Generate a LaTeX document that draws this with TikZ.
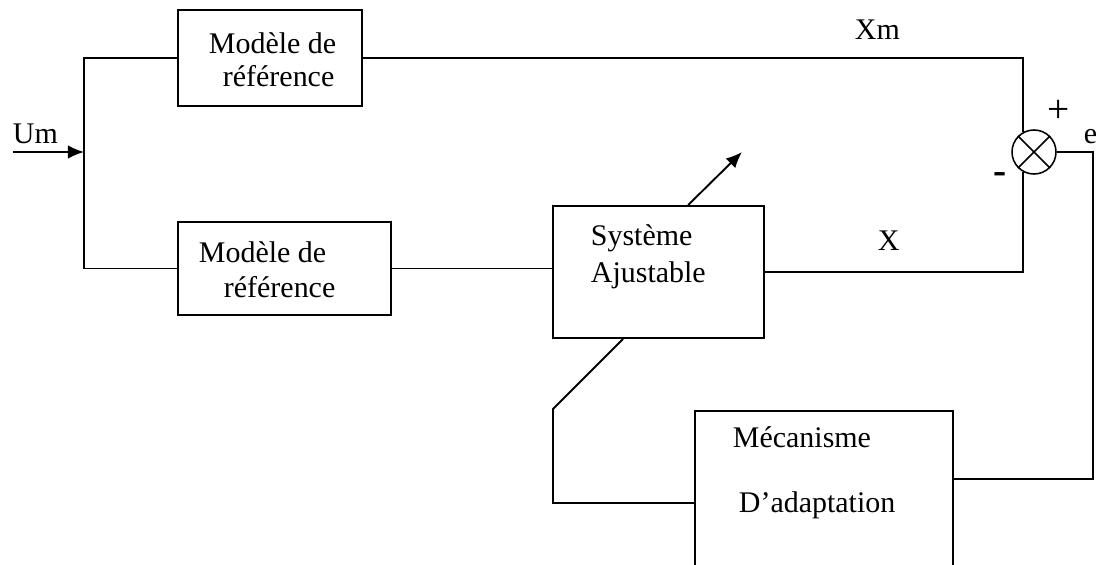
\documentclass[tikz,border=0pt]{standalone}
\usepackage{fontspec}
\setmainfont{Liberation Serif}
\usetikzlibrary{arrows.meta,positioning}

\begin{document}
\begin{tikzpicture}[x=0.025cm,y=-0.025cm,line width=1.35pt,
    bloc/.style={draw,rectangle,inner sep=0pt},
    texte/.style={anchor=base west,inner sep=0pt,font=\fontsize{21.3}{23.5}\selectfont},
    signe/.style={inner sep=0pt,font=\fontsize{28}{30}\selectfont},
    fleche/.style={-{Latex[length=4mm,width=3.4mm]}}]
    \useasboundingbox (0,0) rectangle (1099,565);

    % blocs
    \node [bloc, minimum width=4.6cm, minimum height=2.4cm] (ref haut) at (270,58) {};
    \node [bloc, minimum width=5.325cm, minimum height=2.325cm] (ref bas) at (284.5,268.5) {};
    \node [bloc, minimum width=5.275cm, minimum height=3.3cm] (systeme) at (658.5,272) {};
    \node [bloc, minimum width=6.45cm, minimum height=3.9cm] (adaptation) at (824,489) {};
    \node [draw, circle, minimum size=1.1cm, inner sep=0pt, line width=1.1pt] (somme) at (1034,152) {};
    \draw [line width=1.1pt] (somme.45) -- (somme.225);
    \draw [line width=1.1pt] (somme.135) -- (somme.315);

    % textes
    \node [texte] (ref haut l1) at (208,54) {Modèle de};
    \node [texte] (ref haut l2) at (222,87) {référence};
    \node [texte] (ref bas l1) at (198,262) {Modèle de};
    \node [texte] (ref bas l2) at (223,297) {référence};
    \node [texte] (systeme l1) at (590,245) {Système};
    \node [texte] (systeme l2) at (590,282) {Ajustable};
    \node [texte] (adaptation l1) at (732,447) {Mécanisme};
    \node [texte] (adaptation l2) at (738,512) {D’adaptation};

    \node [texte] (um label) at (12,144) {Um};
    \node [texte] (xm label) at (854,40) {Xm};
    \node [texte] (x label) at (877,250) {X};
    \node [texte] (e label) at (1083,143) {e};
    \node [signe] (plus label) at (1059,111) {+};
    \node [signe] (moins label) at (1000,178) {\textbf{-}};

    % points
    \coordinate (um in) at (13,152);
    \coordinate (branche) at (84,152);
    \coordinate (e coin) at (1093,152);
    \coordinate (retour bas) at (553,409);
    \coordinate (ajust tip) at (742,152);

    % liaisons
    \draw [fleche] (um in) -- (branche);
    \draw (ref haut.west) -| (branche) |- (ref bas.west);
    \draw (ref haut.east) -| (somme.120);
    \draw (ref bas.east) -- (ref bas.east -| systeme.west);
    \draw (systeme.east) -| (somme.240);
    \draw (somme.east) -- (e coin) |- ([yshift=0.25cm]adaptation.east);
    \draw ([yshift=-0.35cm]adaptation.west) -| (retour bas) -- ([xshift=-0.8875cm]systeme.south);
    \draw [fleche] ([xshift=0.74cm]systeme.north) -- (ajust tip);
\end{tikzpicture}
\end{document}
